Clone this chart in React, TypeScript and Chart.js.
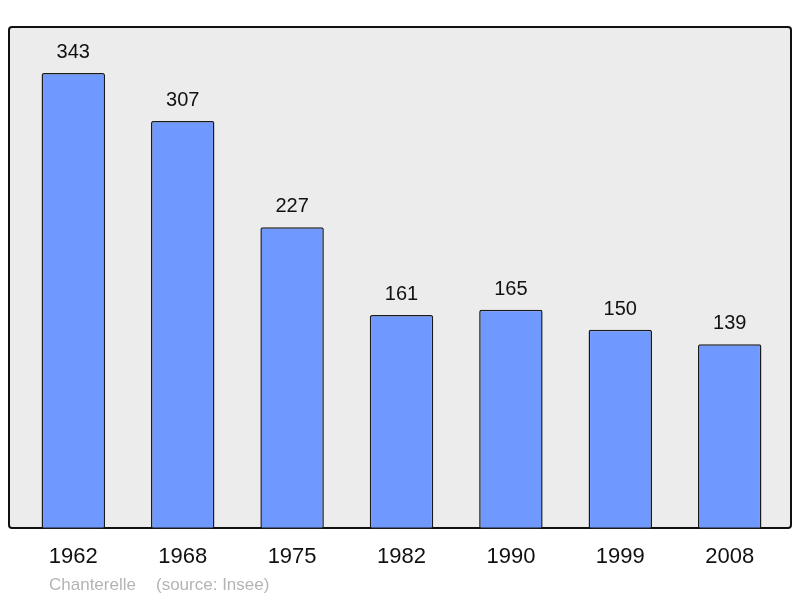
import React, { useEffect, useRef } from "react";
import { Chart, registerables } from "chart.js";

Chart.register(...registerables);

const years: string[] = ["1962", "1968", "1975", "1982", "1990", "1999", "2008"];
const population: number[] = [343, 307, 227, 161, 165, 150, 139];
const yMax = 377.7;
const footerName = "Chanterelle";
const footerSource = "(source: Insee)";

const FONT = '"Liberation Sans", Arial, sans-serif';

const boxPlugin = {
  id: "boxBg",
  beforeDraw(chart: any) {
    const { ctx } = chart;
    const x0 = 9, y0 = 27, x1 = 791, y1 = 528, r = 3;
    ctx.save();
    ctx.beginPath();
    ctx.moveTo(x0 + r, y0);
    ctx.lineTo(x1 - r, y0);
    ctx.quadraticCurveTo(x1, y0, x1, y0 + r);
    ctx.lineTo(x1, y1 - r);
    ctx.quadraticCurveTo(x1, y1, x1 - r, y1);
    ctx.lineTo(x0 + r, y1);
    ctx.quadraticCurveTo(x0, y1, x0, y1 - r);
    ctx.lineTo(x0, y0 + r);
    ctx.quadraticCurveTo(x0, y0, x0 + r, y0);
    ctx.closePath();
    ctx.fillStyle = "#ececec";
    ctx.fill();
    ctx.lineWidth = 2;
    ctx.strokeStyle = "#111111";
    ctx.stroke();
    ctx.restore();
  },
};

const labelPlugin = {
  id: "valueLabels",
  afterDatasetsDraw(chart: any) {
    const { ctx } = chart;
    const meta = chart.getDatasetMeta(0);
    const data = chart.data.datasets[0].data as number[];
    ctx.save();
    ctx.font = `20px ${FONT}`;
    ctx.fillStyle = "#111111";
    ctx.textAlign = "center";
    ctx.textBaseline = "alphabetic";
    meta.data.forEach((el: any, i: number) => {
      ctx.fillText(String(data[i]), el.x, el.y - 15);
    });
    ctx.font = `17px ${FONT}`;
    ctx.fillStyle = "#b4b4b4";
    ctx.textAlign = "left";
    ctx.fillText(footerName, 49, 590);
    ctx.fillText(footerSource, 156, 590);
    ctx.restore();
  },
};

export default function App() {
  const ref = useRef<HTMLCanvasElement | null>(null);
  useEffect(() => {
    if (!ref.current) return;
    const chart = new Chart(ref.current, {
      type: "bar",
      data: {
        labels: years,
        datasets: [
          {
            data: population,
            backgroundColor: "#7099ff",
            borderColor: "#1a1a1a",
            borderWidth: 1.5,
            borderRadius: 2,
            borderSkipped: false,
            categoryPercentage: 1,
            barPercentage: 0.58,
          },
        ],
      },
      options: {
        responsive: false,
        animation: false,
        layout: { padding: { left: 18.6, right: 15.6, top: 27, bottom: 12.6 } },
        plugins: { legend: { display: false }, tooltip: { enabled: false } },
        scales: {
          x: {
            offset: true,
            grid: { display: false, drawTicks: false },
            border: { display: false },
            ticks: {
              padding: 15,
              color: "#111111",
              font: { family: FONT, size: 22 },
              maxRotation: 0,
            },
          },
          y: {
            display: false,
            min: 0,
            max: yMax,
          },
        },
      },
      plugins: [boxPlugin, labelPlugin],
    });
    return () => chart.destroy();
  }, []);
  return (
    <div style={{ position: "fixed", left: 0, top: 0, width: 800, height: 598, background: "#ffffff" }}>
      <canvas ref={ref} width={800} height={598} />
    </div>
  );
}
